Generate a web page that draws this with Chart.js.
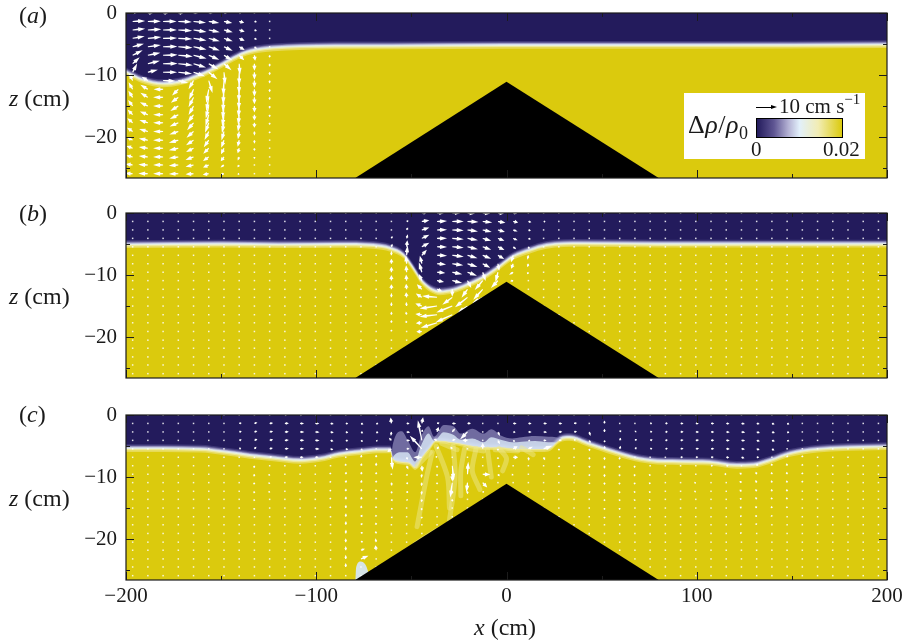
<!DOCTYPE html>
<html><head><meta charset="utf-8">
<script src="https://cdn.jsdelivr.net/npm/chart.js@4/dist/chart.umd.min.js"></script>
<style>
html,body{margin:0;padding:0;background:#fff}
#page{position:relative;width:908px;height:641px;overflow:hidden;font-family:"Liberation Serif",serif;font-size:24px;color:#1a1a1a}
canvas{position:absolute;left:0}
.t{position:absolute;white-space:nowrap;line-height:1;z-index:3}
.s{font-size:21px}
i{font-style:italic}
#box{position:absolute;left:684px;top:93px;width:181px;height:66px;background:#fff;z-index:2}
#bar{position:absolute;left:756px;top:118px;width:85px;height:18px;border:1px solid #000;z-index:3;
background:linear-gradient(90deg,#231b5c 0%,#5f5693 20%,#b4b2d4 37%,#e2f0fb 50%,#f2edb4 72%,#dbca0d 100%)}
#shaft{position:absolute;left:756px;top:107px;width:16px;height:1px;background:#000;z-index:3}
#head{position:absolute;left:771px;top:105px;width:0;height:0;border-left:6px solid #000;border-top:2.5px solid transparent;border-bottom:2.5px solid transparent;z-index:3}
sup{font-size:15px;line-height:0;position:relative;top:-1px;vertical-align:super}
sub{font-size:18px;line-height:0;vertical-align:sub}
</style></head><body>
<div id="page">
<canvas id="pa" width="908" height="200" style="top:0"></canvas>
<canvas id="pb" width="908" height="200" style="top:200px"></canvas>
<canvas id="pc" width="908" height="241" style="top:400px"></canvas>
<div class="t" style="left:19px;top:3px">(<i>a</i>)</div>
<div class="t" style="left:19px;top:201px">(<i>b</i>)</div>
<div class="t" style="left:19px;top:402px">(<i>c</i>)</div>
<div class="t" style="left:9px;top:86px"><i>z</i> (cm)</div>
<div class="t" style="left:9px;top:284px"><i>z</i> (cm)</div>
<div class="t" style="left:9px;top:486px"><i>z</i> (cm)</div>
<div class="t" style="left:474px;top:615px"><i>x</i> (cm)</div>
<div id="box"></div><div id="bar"></div><div id="shaft"></div><div id="head"></div>
<div class="t s" style="left:779px;top:96px">10 cm s<sup>−1</sup></div>
<div class="t" style="left:688px;top:112px;font-size:26px;letter-spacing:.5px">Δ<i>ρ</i>/<i>ρ</i><sub>0</sub></div>
<div class="t s" style="left:751px;top:139px">0</div>
<div class="t s" style="left:823px;top:139px">0.02</div>
</div>
<script>
// ---------- axes ----------
const xTickStep = 50, zTickStep = 5;
const xMin = -200, xMax = 200, zMin = -26.6, zMax = 0;
// ---------- topography ----------
const hillX = [-79.5, 0, 80];
const hillZ = [-26.6, -11.1, -26.6];
// ---------- interface depth (cm) ----------
const ifaceAX = [-200,-191,-180.5,-171.7,-163,-154,-145,-138.4,-131,-122.6,-108.6,-90,-60,0,60,100,200];
const ifaceAZ = [-9.5,-10.8,-11.4,-11.1,-10.2,-9,-7.5,-6.5,-5.9,-5.6,-5.4,-5.3,-5.3,-5.2,-5.2,-5.2,-5.1];
const ifaceBX = [-200,-150,-120,-88,-70,-61,-54,-49,-45,-40,-35,-28,-21,-12,-5,3.5,12,21,39,80,200];
const ifaceBZ = [-5.1,-5,-5.1,-5.05,-5.2,-5.7,-6.8,-8.9,-10.8,-12.2,-12.7,-12.4,-11.6,-10.3,-8.9,-7,-6,-5.2,-4.9,-5,-5];
const ifaceCX = [-200,-161,-149,-135,-122.6,-108.6,-98,-88,-77,-68,-61,-60,-56,-51,-48,-44,-41,-37,-28,-17.5,-12,-3.5,5,16,19,23,28,33,44,53,65,75.4,91,107,121,130,138.5,149,160,174,200];
const ifaceCZ = [-5.4,-5.5,-5.9,-6.5,-6.9,-7.3,-7,-6.3,-5.9,-5.6,-5.6,-6.8,-7.4,-7.6,-8.3,-6.5,-5.4,-4,-4.3,-4.9,-5.1,-5.1,-5.4,-5.4,-5.4,-5.2,-3.9,-3.6,-4.7,-5.6,-6.7,-7.3,-7.5,-7.6,-8.1,-8,-7.3,-6.2,-5.6,-5.3,-5.1];
// ---------- turbulent patch, panel c ----------
const mixX = [-200,-62,-60,-55,-52,-48,-45,-41,-38,-33,-28,-24,-18,-12,-8,-3,3,8,15,22,30,33,200];
const mixOuterZ = [-27,-27,-5.2,-2.6,-4,-6,-3.5,-1.8,-3.5,-1.6,-1.8,-3,-2.2,-3,-2.3,-3.3,-3.8,-3.6,-3.4,-3.5,-4,-27,-27];
const mixInnerZ = [-27,-27,-7,-6,-6,-7.5,-5,-3,-4.2,-2.8,-3.2,-4,-3.8,-4.4,-3.6,-4,-4.4,-4.3,-4.2,-4.4,-4.8,-27,-27];
const cornerX = [-79.5,-79,-76.5,-74.5,-73,-72];
const cornerZ = [-26.6,-24.5,-23.6,-24,-25,-26.6];
const streakX = [[-47,-40],[-37,-31,-30],[-28,-27,-30],[-22,-24,-24],[-16,-18,-14],[-10,-8],[-4,0,-2],[-39,-42,-47],[8,12,14],[-25,-36,-48],[-34,-26],[-20,-12],[-6,6]];
const streakZ = [[-8.2,-6],[-5,-10,-15],[-5,-10,-17],[-5.4,-9,-13],[-5.4,-9,-12],[-5.5,-10],[-5.4,-7,-9],[-6,-10,-18],[-5.3,-6,-6.4],[-17,-18.5,-20.8],[-4.6,-5.6],[-5.4,-5.8],[-5.6,-5.8]];
// ---------- velocity sample grid ----------
const sampleX = [-196.5,-188.5,-180.5,-172.5,-164.5,-156.5,-148.5,-140.5,-132.5,-124.5,-116.5,-108.5,-100.5,-92.5,-84.5,-76.5,-68.5,-60.5,-52.5,-44.5,-36.5,-28.5,-20.5,-12.5,-4.5,3.5,11.5,19.5,27.5,35.5,43.5,51.5,59.5,67.5,75.5,83.5,91.5,99.5,107.5,115.5,123.5,131.5,139.5,147.5,155.5,163.5,171.5,179.5,187.5,195.5];
const sampleZ = [0,-1.36,-2.73,-4.09,-5.45,-6.82,-8.18,-9.55,-10.9,-12.3,-13.6,-15,-16.4,-17.7,-19.1,-20.5,-21.8,-23.2,-24.5,-25.9];
// ---------- velocity, panel a: columns 0-9, rows top to bottom (cm/s) ----------
const uA = [
[1.5,5,5,4.8,4.5,4,2.8,1.8,-1.5,-1.6,-1.7,-1.8,-2,-2.1,-2.2,-2.3,-2.5,-2.6,-2.8,-3],
[2,5.2,5.4,5.4,5.2,5,4.8,4,-2.5,-3,-3,-3.2,-3.2,-3.4,-3.5,-3.6,-3.6,-3.6,-3.8,-3.8],
[2,5.4,5.5,5.6,5.7,5.8,5.8,5.6,5,-3.8,-4,-4,-4,-4,-4,-4,-4,-4,-4,-4],
[2,5.4,5.5,5.6,5.7,5.8,5.8,5.5,4,-2.5,-3,-3.2,-3.4,-3.5,-3.6,-3.8,-3.8,-3.8,-3.8,-3.8],
[1.8,5,5.2,5.2,5.2,5.2,5,4.6,-2,-1.8,-2,-2,-2.4,-2.6,-2.8,-3,-3,-3.2,-3.2,-3.2],
[1.6,4.2,4.4,4.4,4.4,4.2,3.8,3.5,1.5,-1,-1,-1.2,-1.3,-1.5,-1.7,-2,-2.2,-2.3,-2.3,-2.4],
[1.2,3.3,3.5,3.5,3.5,3.3,3,.5,-.3,-.4,-.5,-.6,-.7,-.8,-1,-1.1,-1.2,-1.3,-1.4,-1.4],
[.8,2,2.2,2.2,2.2,2,.3,0,-.1,-.2,-.2,-.3,-.4,-.5,-.5,-.6,-.6,-.6,-.7,-.7],
[.3,1,1,1,1,.3,0,0,0,0,0,0,0,0,0,0,0,0,0,0],
[0,0,0,0,0,0,0,0,0,0,0,0,0,0,0,0,0,0,0,0]];
const wA = [
[0,.2,.5,.8,1.2,2,2.6,3.5,3,2.8,2.6,2.4,2,1.8,1.5,1.2,.9,.6,.4,.1],
[0,.1,.3,.5,.7,1,1.2,1,1.5,1.8,1.8,1.5,1.3,1.1,1,.7,.5,.4,.2,.1],
[0,0,0,.1,.1,.2,.1,0,-.2,0,0,0,0,0,0,0,0,0,0,0],
[0,-.2,-.3,-.3,-.4,-.5,-.6,-.6,-1,-2.5,-2.2,-2,-1.7,-1.5,-1.2,-1,-.8,-.5,-.3,-.1],
[0,-.5,-.8,-.9,-1.1,-1.3,-1.5,-1.6,-3.5,-4.2,-4,-3.6,-3.2,-3,-2.5,-2,-1.5,-1.2,-.7,-.2],
[0,-.6,-.9,-1.2,-1.5,-1.8,-2.2,-2.8,-5,-5.5,-5.6,-5,-4.6,-4,-3.4,-2.8,-2.2,-1.6,-1,-.4],
[0,-.6,-.9,-1.2,-1.6,-2,-2.6,-5,-6,-6,-5.8,-5.3,-4.8,-4.2,-3.6,-3,-2.4,-1.7,-1,-.3],
[0,-.5,-.7,-1,-1.3,-2,-4.5,-5.3,-5.4,-5.2,-5,-4.6,-4.2,-3.6,-3.1,-2.6,-2,-1.4,-.9,-.3],
[0,-.2,-.4,-.5,-.9,-2.2,-2.8,-3,-3,-3,-2.8,-2.6,-2.3,-2,-1.7,-1.4,-1.1,-.8,-.5,-.2],
[0,-.4,-.4,-.4,-.4,-1,-1.2,-1.2,-1.2,-1.2,-1.1,-1.1,-1,-.9,-.8,-.7,-.6,-.5,-.4,-.2]];
// ---------- velocity, panel b: columns 15-27 ----------
const startB = 15;
const uB = [
[],[],
[0,.3,.3,.4,.4,0,0,0,0,0,0,0,0,0,0,0],
[.4,.8,.6,.5,.3,.4,-.3,-.2,-.2,-.2,-.2,-.2,-.3,-.3,-.4,-.5],
[2.2,3,3,3,3,2,-.8,-1.2,-1.2,-2,-2.4,-2.6,-2.6,-2.4,-2.2],
[3,4,4,4,4,4,3.6,3.3,2.8,2,-6,-7,-7,-6.5],
[3.5,4.6,4.6,4.6,4.6,4.6,4.4,4,4,0,-4,-6.4,-6.6],
[3,4.4,4.2,4.2,4.2,4,4,3.8,1.5,-2.4,-5,-4],
[3,3.8,3.6,3.4,3.4,3.4,3,1.2,-3.2,-3.8,-4.2],
[2.4,3,2.8,2.6,2.6,2.5,.5,-1,-2.8],
[1.6,2,1.8,1.8,1.2,-.8,-.8,-1.6,-1.2],
[.6,1.2,1,1,.4,-.4,-.4,-.5,-.5,-.5],
[.4,.8,.6,.5,.2,-.1,-.1,-.2,-.2,-.2,-.2]];
const wB = [
[0,0,0,0,0,.4,.4,.4,.4,.4,.4,.4,.3,.3],
[0,0,0,0,.3,.7,.7,.7,.7,.7,.7,.7,.7,.5,.4],
[0,.2,.5,.9,1.2,1.8,2,2.2,2.2,2,1.8,1.6,1.3,1.1,.8,.5],
[.2,.3,1,1.6,2.6,4,3.3,2.8,2.4,2.2,2,1.7,1.3,.9,.3,.2],
[.3,.5,1,1.4,1.6,2.2,3.2,4,2.6,2,1.5,1,.3,-.2,-.1],
[.1,.2,.1,0,-.1,-.2,-.3,-.3,-.6,-.8,.5,-1,-.8,-2],
[.1,0,-.2,-.4,-.4,-.6,-.6,-.8,-1,-3,-3,-2.6,-3],
[-.2,-.2,-.6,-.8,-1,-1.2,-1.3,-1.4,-3,-3.4,-4,-2.8],
[-.2,-.4,-.8,-1,-1.2,-1.4,-1.6,-3.5,-3.8,-4.2,-2.4],
[-.2,-.5,-.8,-1,-1.3,-1.5,-2.8,-4,-3],
[-.2,-.4,-.6,-.8,-1,-2.8,-2,-1,-.3],
[-.1,-.3,-.3,-.4,-1,-1.8,-1.4,-.8,-.4,-.2],
[0,-.1,-.2,-.2,-.5,-.7,-.7,-.5,-.3,-.2,-.1]];
// ---------- velocity, panel c: columns 7-45 ----------
const startC = 7;
const uC = [
[0,1,1,1,.8],
[0,1.2,1.2,1.2,.8,0,-.2,-.2,-.2,-.2,-.2,-.2,-.1,-.1],
[.6,1.4,1.4,1.4,1.3,1,-.3,-.4,-.4,-.4,-.4,-.3,-.3,-.3,-.2,-.2],
[.8,1.6,1.6,1.6,1.6,1.4,0,-.5,-.5,-.5,-.5,-.4,-.4,-.4,-.3,-.3],
[.8,1.6,1.7,1.7,1.6,1.4,0,-.5,-.5,-.5,-.5,-.4,-.4,-.4,-.3,-.3],
[.8,1.6,1.7,1.7,1.7,1.4,0,-.3,-.3,-.3,-.3,-.3,-.2,-.2,-.2,-.2],
[.6,1.3,1.3,1.2,1.1,0,-.2,-.2,-.2,-.2,-.2,-.2,-.2,-.1,-.1,-.1],
[0,1,1,1,1,0,-.1,.2,.2,.1,.1,.1,.1,.1,.1,0,0,0,0],
[0,1,.9,.8,.7,.3,.4,.4,.4,.4,.4,.3,.6,.6,.7,.8,1.6,3],
[0,.9,.9,.6,.5,0,0,0,0,-.1,-.1,-.1,-.2,-.2,-.2,-.3,-.3],
[-.2,-.3,-.2,-1,-1.6,.5,0,0,.2,.2,.4,.4,.4,.3,.3],
[0,1.2,1.4,1.4,1.2,.4,.7,.3,.6,.6,.4,.4,.4,.4,.4,.4],
[.5,.5,.4,-1.6,-4.8,-3.4,.2,-.2,-.2,-.2,-.1,-.2,-.1,0,0],
[-.2,1,.6,-1.4,.8,-.6,0,0,0,.2,.2,.2,.1,.1],
[1.2,1.6,1.2,1.4,-.8,-.5,.6,0,-.8,0,0,0,0],
[.4,1.4,-3,-2,0,.2,0,.3,-.4,0,0,0],
[.4,.6,.4,-.2,0,0,0,3,1.8,.5],
[.4,0,.8,.8,0,0,.8,.7,.2],
[.8,1.4,1,.8,1.8,2,.2,-.6,-.6],
[.6,1.3,1.3,.8,1.8,.2,.1,0,0,0],
[.6,1.4,1.4,1.2,3.5,.6,.2,.1,.1,0],
[.6,1.4,1.4,1.3,.1,.2,.2,.2,.1,.1,.1,.1],
[.5,1.2,1.2,.7,.1,.1,.1,.1,.1,.1,0,0],
[.2,.4,.5,.5,.2,.2,.2,.2,.2,.2,.1,.1,.1,.1],
[0,0,0,.1,.1,0,0,0,0,0,0,0,0,0,0],
[.2,.4,.6,.5,.4,-.1,-.2,-.2,-.2,-.2,-.1,-.1,-.2,-.2,-.1,-.1],
[.3,.6,.6,.8,.8,.1,-.3,-.3,-.3,-.3,-.3,-.3,-.3,-.3,-.3,-.2,-.2],
[.4,.8,.9,1,.9,.6,-.3,-.4,-.4,-.4,-.4,-.4,-.4,-.3,-.3,-.3,-.3,-.3],
[.5,1,1,1,1,.6,-.5,-.5,-.5,-.5,-.5,-.5,-.4,-.4,-.4,-.4,-.3,-.3],
[.6,1.2,1.2,1.2,1.2,1,-.6,-.6,-.6,-.6,-.6,-.5,-.5,-.5,-.4,-.4,-.4,-.3],
[.6,1.2,1.3,1.3,1.3,1,.6,-.6,-.7,-.7,-.6,-.6,-.6,-.5,-.5,-.4,-.4,-.3,-.3],
[.6,1.3,1.3,1.3,1.3,1.1,.8,-.7,-.7,-.7,-.7,-.6,-.6,-.6,-.5,-.5,-.4,-.4,-.3],
[.6,1.3,1.4,1.4,1.4,1.2,1,-.8,-.7,-.7,-.7,-.7,-.6,-.6,-.5,-.5,-.4,-.4,-.3],
[.7,1.4,1.5,1.5,1.4,1.2,.5,-.8,-.8,-.8,-.7,-.7,-.6,-.6,-.6,-.5,-.5,-.4,-.3],
[.6,1.2,1.3,1.3,1.2,1,.4,-.4,-.5,-.5,-.5,-.5,-.5,-.4,-.4,-.4,-.3,-.3,-.2],
[.6,1.1,1.2,1.2,1,.4,-.2,-.2,-.2,-.2,-.2,-.2,-.2,-.2,-.2,-.2,-.1,-.1,-.1],
[.4,.9,.9,.9,.5,.1,-.2,-.2,-.2,-.2,-.2,-.2,-.2,-.2,-.1,-.1,-.1,-.1],
[.3,.6,.6,.6,.2,0,0,0,0,0,0,0,0,0,0],
[.2,.3,.3,.3]];
const wC = [
[0,.2,.3,.3,.3,0,-.6,-.6,-.6,-.6,-.6,-.5,-.5,-.4,-.4,-.3],
[0,.4,.4,.5,.8,0,-1,-1,-.9,-.9,-.8,-.8,-.7,-.6,-.5,-.4],
[0,.2,.3,.3,.3,.2,-.6,-.6,-.6,-.6,-.5,-.5,-.4,-.4,-.3,-.2],
[0,.1,.1,.1,.1,.1,0,-.3,-.3,-.3,-.2,-.2,-.2,-.2,-.1,-.1],
[0,0,0,0,0,0,0,-.1,-.1,-.1,-.1,-.1,-.1,0,0,0],
[0,0,-.1,-.1,-.1,0,0,.3,.3,.3,.3,.3,.3,.2,.2,.1],
[0,-.2,-.3,-.4,-.5,0,.5,.7,.7,.7,.7,.7,.6,.5,.5,.4,.3],
[0,-.1,-.3,-.3,-.4,0,.9,1,1,1.1,1.2,1.3,1.4,1.5,1.6,1.6,1.7,1.7,1.6],
[0,-.3,-.5,-.6,-.7,1,1,1,1,1,1,1,.8,.7,.6,.5,.6,1.3],
[0,-.2,-.4,-.4,.2,1,1.3,.9,.9,.8,.8,.8,.8,.9,1,1.6,2,0],
[1.3,2.4,-1.6,1,-1.3,-5,-.4,0,-1.4,-1,-.8,-.7,-.6,-.5,-.4,-.3,-.2],
[0,0,-.2,-.1,0,-1,-1.5,-.7,-.7,-.7,-.6,-.3,-.3,-.2,-.2,-.2],
[2,2.5,1,8,5.2,0,-2.4,-1.5,-1.5,-1.5,-1.2,-1,-.8,-.6,-.4],
[1,.3,2,.5,.9,.4,-.9,-.8,-.8,-.4,-.3,-.3,-.2,-.1],
[0,0,1.5,.4,.8,.3,-6,-3,-6,-1,-1,-.6,-.3],
[.1,.1,-3,0,0,0,-1,5,-4,-1.2,-.6,-.4],
[-.1,0,0,-.4,2.4,-.3,-.5,-.1,-2,-.6],
[-.1,.6,-1.6,-1.6,-.8,-.8,-.4,-.8,-.3],
[0,0,-.1,-.6,1,0,.1,-.5,-.2],
[0,0,0,-.3,.8,-1.4,-.6,-.4,-.3,-.1],
[0,0,-.1,-.1,1.2,-1.2,-.5,-.3,-.3],
[0,0,.1,.1,-.8,-.7,-.7,-.6,-.5,-.4,-.3,-.3],
[0,.2,.2,.4,-.5,-.4,-.4,-.4,-.4,-.3,-.3,-.2],
[0,-.5,-1.6,-1.2,-1,-1,-.9,-.8,-.7,-.7,-.6,-.6,-.5,-.3],
[1,1.2,1.3,-.9,1.2,-1.2,-1.2,-1.2,-1,-1,-.8,-.8,-.8,-.5,-.3],
[0,.5,.7,1,1.2,-1,-.9,-.9,-.9,-.9,-.8,-.8,-.6,-.5,-.4,-.3],
[0,.3,.4,.5,.5,-.6,-.9,-.9,-.8,-.7,-.7,-.6,-.6,-.5,-.4,-.3,-.2],
[0,.1,.2,.3,.2,.1,-.6,-.7,-.7,-.7,-.6,-.6,-.5,-.5,-.4,-.3,-.2,-.2],
[0,.1,.1,.1,.1,.2,-.3,-.3,-.3,-.3,-.3,-.3,-.2,-.2,-.2,-.2,-.1,-.1],
[0,0,.1,.1,.1,.1,-.2,-.2,-.2,-.2,-.2,-.2,-.2,-.1,-.1,-.1,-.1],
[0,0,0,.1,.1,.1,0,-.2,-.2,-.2,-.2,-.1,-.1,-.1,-.1,-.1,-.1,-.1,-.1],
[0,0,0,0,0,.1,0,-.1,-.1,-.1,-.1,-.1,-.1,-.1,-.1,-.1,0,0,0],
[0,-.1,-.1,-.1,-.1,-.1,0,.1,.1,.1,.1,.1,.1,.1,0,0,0,0,0],
[0,-.2,-.2,-.2,-.2,-.4,0,.6,.6,.6,.5,.5,.5,.4,.4,.3,.3,.2,.1],
[0,-.2,-.4,-.4,-.5,0,.9,1,1,.9,.9,.8,.7,.6,.5,.4,.3,.2,.1],
[0,-.3,-.4,-.4,-.7,0,.9,.9,.9,.9,.8,.8,.7,.6,.5,.4,.3,.2],
[0,-.3,-.3,-.4,-.2,.8,1,1,.9,.9,.8,.7,.6,.6,.5,.4,.3,.2],
[0,-.2,-.2,-.2,-.1,.8,.8,.8,.8,.7,.7,.6,.5,.5,.4,.3,.2],
[0,-.1,-.1,-.1]];
// ---------- colour ramp across the interface: offset (cm) and colour ----------
const bandOffset = [.7,.5,.35,.2,.05,-.1,-.3,-.55];
const bandColor = ['#3f3878','#6d679f','#a5a3cb','#d7dfef','#eaf2da','#efe99a','#e6da56','#dbca0d'];
const NAVY='#231b5c', BLACK='#000000';

function pts(xs,zs){return xs.map((x,i)=>({x,y:zs[i]}));}
function area(data,color,extra){return Object.assign({data,backgroundColor:color,borderColor:color,borderWidth:0,fill:'start',pointRadius:0,cubicInterpolationMode:'monotone'},extra||{});}
function grid(colStart,colEnd,U,W,uStart){
  const out=[];
  for(let k=colStart;k<=colEnd;k++){
    sampleZ.forEach((z,r)=>{
      const a=U[k-uStart]||[], b=W[k-uStart]||[];
      out.push({x:sampleX[k],y:z,u:a[r]||0,w:b[r]||0});
    });
  }
  return out;
}
const arrowPlugin={id:'arrows',afterDatasetDraw(chart,args){
  const ds=chart.data.datasets[args.index]; if(!ds.isArrows) return;
  const c=chart.ctx,a=chart.chartArea,meta=args.meta;
  c.save();c.beginPath();c.rect(a.left,a.top,a.width,a.height);c.clip();
  c.fillStyle='#ffffff';
  meta.data.forEach((el,i)=>{
    const d=ds.data[i],dx=d.u*2.5,dy=-d.w*2.5,L=Math.hypot(dx,dy);
    if(L<1.8){c.globalAlpha=.85;c.fillRect(el.x-.75,el.y-.75,1.5,1.5);c.globalAlpha=1;return;}
    const ux=dx/L,uy=dy/L,px=-uy,py=ux,h=Math.min(7,L*.7),hw=L<5?1.3:2.1,sw=.85;
    c.beginPath();
    c.moveTo(el.x+px*sw*.6,el.y+py*sw*.6);
    c.lineTo(el.x+ux*(L-h)+px*sw,el.y+uy*(L-h)+py*sw);
    c.lineTo(el.x+ux*(L-h)+px*hw,el.y+uy*(L-h)+py*hw);
    c.lineTo(el.x+dx,el.y+dy);
    c.lineTo(el.x+ux*(L-h)-px*hw,el.y+uy*(L-h)-py*hw);
    c.lineTo(el.x+ux*(L-h)-px*sw,el.y+uy*(L-h)-py*sw);
    c.lineTo(el.x-px*sw*.6,el.y-py*sw*.6);
    c.closePath();c.fill();
  });
  c.restore();
}};
const framePlugin={id:'frame',afterDraw(chart){
  const c=chart.ctx,a=chart.chartArea,xs=chart.scales.x,ys=chart.scales.y;
  c.save();c.strokeStyle='#1c1c1c';c.lineWidth=1;c.beginPath();
  xs.ticks.forEach(t=>{const p=Math.round(xs.getPixelForValue(t.value))+.5,len=t.value%100===0?8:4;
    c.moveTo(p,a.bottom);c.lineTo(p,a.bottom-len);c.moveTo(p,a.top);c.lineTo(p,a.top+len);});
  ys.ticks.forEach(t=>{const p=Math.round(ys.getPixelForValue(t.value))+.5,len=t.value%10===0?8:4;
    c.moveTo(a.left,p);c.lineTo(a.left+len,p);c.moveTo(a.right,p);c.lineTo(a.right-len,p);});
  c.stroke();
  c.lineWidth=1.2;c.strokeRect(a.left,a.top,a.width,a.height);
  c.restore();
}};
const fmt=v=>v<0?'\u2212'+Math.abs(v):String(v);
function build(id,ifX,ifZ,arrows,opts){
  const sets=[];
  sets.push(area(pts([xMin,xMax],[zMax,zMax]),NAVY,{cubicInterpolationMode:'default'}));
  bandOffset.forEach((o,i)=>{
    if(o>0) sets.push(area(ifZ.map((z,j)=>({x:ifX[j],y:z+o})),bandColor[i]));
  });
  if(opts.mix){
    sets.push(area(pts(mixX,mixOuterZ),'rgba(154,150,196,.65)'));
    sets.push(area(pts(mixX,mixInnerZ),'rgba(212,226,242,.85)'));
  }
  bandOffset.forEach((o,i)=>{
    if(o<=0) sets.push(area(ifZ.map((z,j)=>({x:ifX[j],y:z+o})),bandColor[i]));
  });
  if(opts.mix){
    streakX.forEach((sx,i)=>sets.push({data:pts(sx,streakZ[i]),borderColor:'rgba(238,232,140,.5)',borderWidth:5,fill:false,pointRadius:0,tension:.3,borderCapStyle:'round'}));
    sets.push(area(pts(cornerX,cornerZ),'#d6e4e6'));
  }
  sets.push({type:'scatter',isArrows:true,data:arrows,pointRadius:0,showLine:false});
  sets.push(area(pts(hillX,hillZ),BLACK,{cubicInterpolationMode:'default',tension:0}));
  sets.forEach((s,i)=>{s.order=sets.length-i;});
  return new Chart(document.getElementById(id),{
    type:'line',
    data:{datasets:sets},
    plugins:[arrowPlugin,framePlugin],
    options:{
      responsive:false,animation:false,devicePixelRatio:1,
      layout:{padding:{left:0,right:21,top:opts.top,bottom:0}},
      plugins:{legend:{display:false},tooltip:{enabled:false},title:{display:false}},
      scales:{
        x:{type:'linear',min:xMin,max:xMax,afterFit:s=>{s.height=opts.xh;s.paddingLeft=0;s.paddingRight=0;},
          grid:{display:false,drawTicks:false},border:{display:false},
          ticks:{display:!!opts.xlabels,stepSize:xTickStep,autoSkip:false,maxRotation:0,padding:4,color:'#1a1a1a',
            font:{family:'"Liberation Serif"',size:21},callback:v=>v%100===0?fmt(v):''}},
        y:{type:'linear',min:zMin,max:zMax,afterFit:s=>{s.width=126;s.paddingTop=0;s.paddingBottom=0;},
          grid:{display:false,drawTicks:false},border:{display:false},
          ticks:{stepSize:zTickStep,includeBounds:false,autoSkip:false,padding:9,color:'#1a1a1a',
            font:{family:'"Liberation Serif"',size:21},callback:v=>v%10===0?fmt(v):''}}
      }
    }
  });
}
build('pa',ifaceAX,ifaceAZ,grid(0,9,uA,wA,0),{top:13,xh:22});
build('pb',ifaceBX,ifaceBZ,grid(0,49,uB,wB,startB),{top:13,xh:22});
build('pc',ifaceCX,ifaceCZ,grid(0,49,uC,wC,startC),{top:15,xh:61,xlabels:true,mix:true});
</script>
</body></html>
